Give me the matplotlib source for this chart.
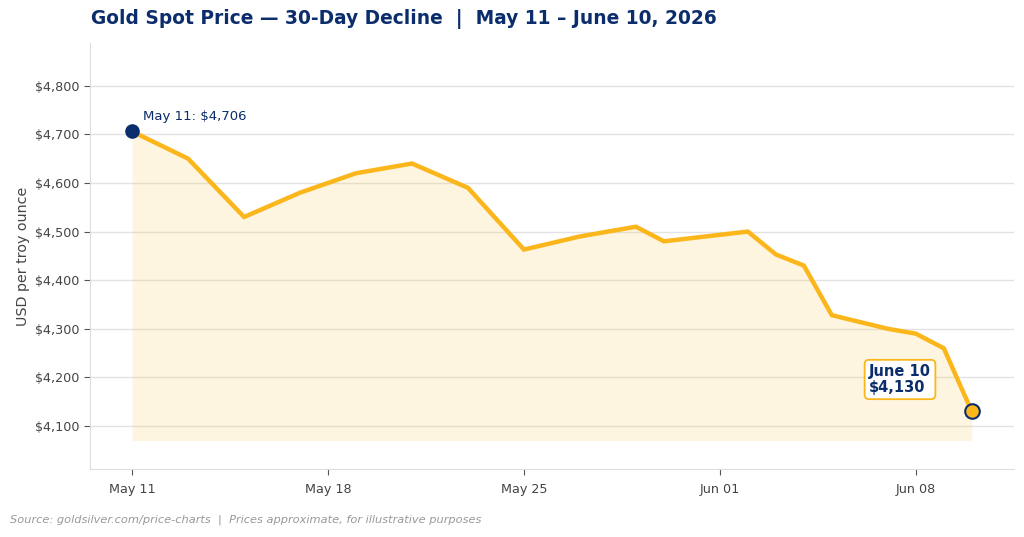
#!/usr/bin/env python3
import numpy as np
import pandas as pd
import matplotlib
matplotlib.use("Agg")
from matplotlib import pyplot as plt
import matplotlib.dates as mdates
from matplotlib.ticker import FuncFormatter

# data
dates = ["2026-05-11", "2026-05-13", "2026-05-15", "2026-05-17", "2026-05-19",
         "2026-05-21", "2026-05-23", "2026-05-25", "2026-05-27", "2026-05-29",
         "2026-05-30", "2026-06-02", "2026-06-03", "2026-06-04", "2026-06-05",
         "2026-06-07", "2026-06-08", "2026-06-09", "2026-06-10"]
prices = [4706, 4650, 4530, 4580, 4620,
          4640, 4590, 4463, 4490, 4510,
          4480, 4500, 4453, 4430, 4328,
          4300, 4290, 4260, 4130]
tick_dates = ["2026-05-11", "2026-05-18", "2026-05-25", "2026-06-01", "2026-06-08"]
fill_floor = 4070

navy = "#0b2d6b"
gold = "#fbb61b"
grey_text = "#444444"

x = pd.to_datetime(dates)

fig = plt.figure(figsize=(10.24, 5.37), dpi=100)
ax = fig.add_axes([0.088, 0.127, 0.902, 0.793])

ax.fill_between(x, prices, fill_floor, color=gold, alpha=0.13, linewidth=0, zorder=1)
ax.plot(x, prices, color=gold, linewidth=3.2, zorder=3, solid_joinstyle="miter")

# start / end markers
ax.scatter([x[0]], [prices[0]], s=90, color=navy, zorder=5)
ax.scatter([x[-1]], [prices[-1]], s=110, color=gold, edgecolor=navy, linewidth=1.5, zorder=5)

ax.annotate(f"May 11: ${prices[0]:,}", xy=(x[0], prices[0]), xytext=(8, 6),
            textcoords="offset points", fontsize=9.5, color=navy, ha="left", va="bottom")
ax.annotate(f"June 10\n${prices[-1]:,}", xy=(x[-1], prices[-1]), xytext=(-74, 23),
            textcoords="offset points", fontsize=10.5, fontweight="bold", color=navy,
            ha="left", va="center", linespacing=1.05,
            bbox=dict(boxstyle="round,pad=0.3", fc="white", ec=gold, lw=1.3))

ax.set_xlim(x[0] - pd.Timedelta(hours=36), x[-1] + pd.Timedelta(hours=36))
ax.set_ylim(4012, 4888)
ax.set_yticks(np.arange(4100, 4801, 100))
ax.yaxis.set_major_formatter(FuncFormatter(lambda v, p: f"${v:,.0f}"))
ax.set_xticks(pd.to_datetime(tick_dates))
ax.xaxis.set_major_formatter(mdates.DateFormatter("%b %d"))

ax.grid(axis="y", color="#e3e3e3", linewidth=1.0, zorder=0)
ax.set_axisbelow(True)
for side in ["top", "right"]:
    ax.spines[side].set_visible(False)
for side in ["left", "bottom"]:
    ax.spines[side].set_color("#dddddd")
ax.tick_params(axis="both", colors="#555555", labelcolor=grey_text, labelsize=9.2, length=4)
ax.tick_params(axis="x", pad=6)
ax.tick_params(axis="y", pad=4)
ax.set_ylabel("USD per troy ounce", fontsize=10.3, color=grey_text, labelpad=3)

fig.text(0.089, 0.965, "Gold Spot Price \u2014 30-Day Decline  |  May 11 \u2013 June 10, 2026",
         fontsize=13.4, fontweight="bold", color=navy, ha="left", va="center")
fig.text(0.01, 0.032, "Source: goldsilver.com/price-charts  |  Prices approximate, for illustrative purposes",
         fontsize=8.2, style="italic", color="#999999", ha="left", va="center")

fig.savefig("out.png", dpi=100)
